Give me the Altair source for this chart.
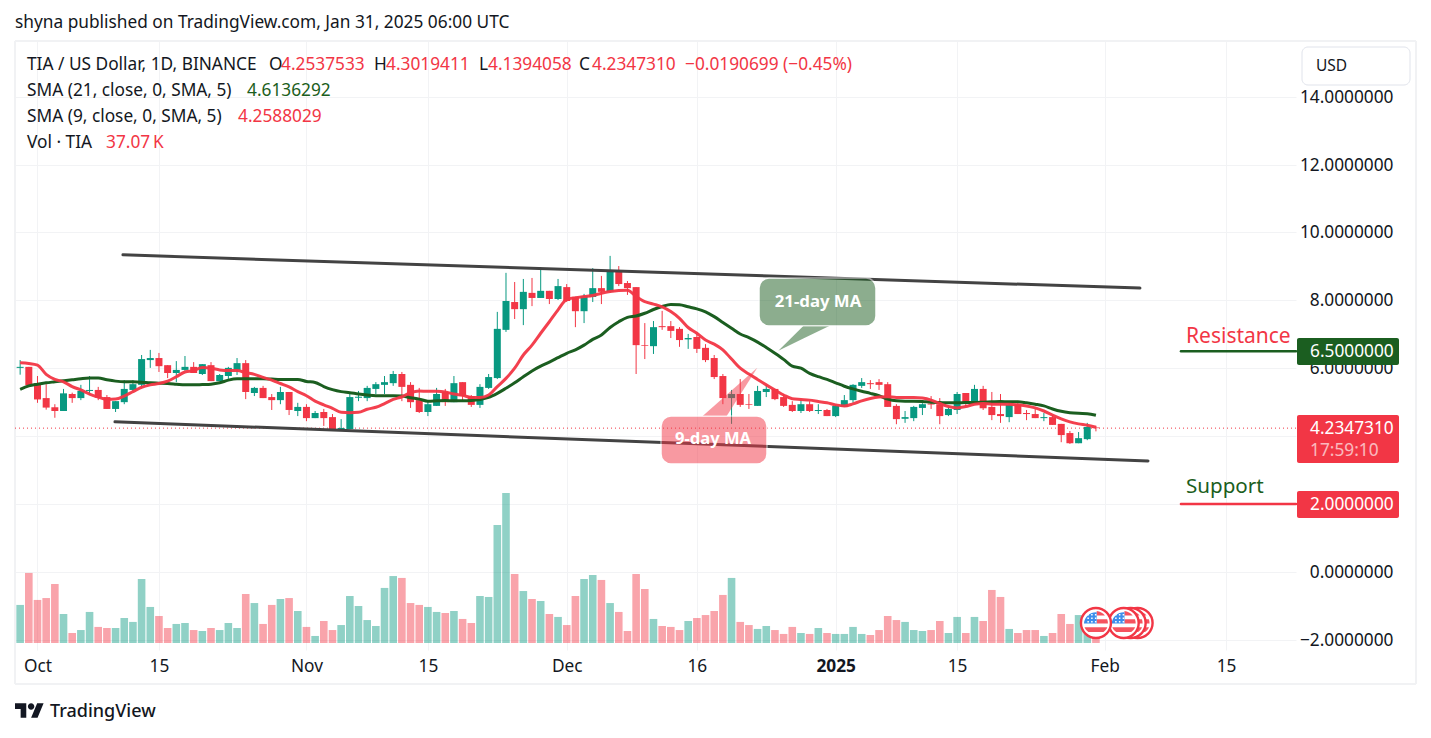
import altair as alt
import pandas as pd

# ---------- data ----------
days = list(range(-2, 123))
opens = [5.99,6.02,5.54,5.10,4.83,4.72,5.22,5.10,5.31,5.34,5.13,4.78,4.98,5.34,5.49,6.22,6.28,6.07,5.84,5.93,6.02,5.81,6.07,5.60,5.75,5.93,6.13,5.25,5.40,5.13,5.04,5.28,4.72,4.84,4.51,4.69,4.54,4.19,4.19,5.11,5.10,5.37,5.49,5.54,5.81,5.49,5.04,4.69,4.87,5.28,4.98,5.57,5.16,4.90,5.40,5.69,7.11,7.93,7.72,8.20,8.05,8.26,8.02,8.37,8.08,7.66,8.08,8.34,8.23,8.87,8.49,8.37,6.66,6.63,7.22,7.22,7.14,6.83,6.90,6.58,6.28,5.75,5.10,5.22,4.92,4.87,5.28,5.37,5.13,4.90,4.72,4.92,4.72,4.75,4.57,4.84,5.04,5.46,5.54,5.57,5.51,4.87,4.49,4.51,4.81,4.94,4.92,4.60,4.75,5.25,4.98,5.37,4.84,4.63,4.54,4.92,4.66,4.63,4.51,4.54,4.34,4.07,3.77,3.89,4.2537533]
highs = [6.22,6.02,5.75,5.51,4.92,5.37,5.26,5.49,5.75,5.43,5.19,5.01,5.63,5.63,6.37,6.52,6.43,6.07,6.19,6.34,6.16,6.10,6.16,5.81,6.02,6.28,6.22,5.43,5.46,5.22,5.43,5.28,4.96,4.92,4.72,4.78,4.63,4.48,5.23,5.31,5.46,5.57,5.75,5.90,5.87,5.57,5.40,5.04,5.40,5.37,5.75,5.57,5.19,5.51,5.81,7.64,8.79,8.52,8.61,8.64,8.96,8.26,8.61,8.46,8.08,8.17,8.93,8.70,9.29,8.99,8.55,8.37,7.31,7.37,7.67,7.37,7.19,6.99,6.99,6.69,6.37,5.81,5.34,5.66,5.22,5.46,5.49,5.37,5.22,5.01,5.04,5.01,4.92,4.78,4.90,5.19,5.51,5.69,5.63,5.66,5.57,4.92,4.72,4.87,4.95,5.16,5.10,4.84,5.28,5.25,5.49,5.46,5.28,5.22,4.98,4.98,4.75,4.78,4.66,4.60,4.34,4.13,4.10,4.37,4.3019411]
lows = [5.79,5.48,4.96,4.76,4.52,4.72,4.96,5.04,5.19,5.04,4.78,4.69,4.92,5.31,5.43,5.99,5.87,5.69,5.57,5.90,5.84,5.78,5.60,5.60,5.66,5.78,5.07,5.16,5.10,4.75,4.92,4.60,4.57,4.42,4.51,4.28,4.16,4.19,4.19,5.01,5.01,5.22,5.22,5.46,5.01,4.81,4.66,4.57,4.87,4.87,4.98,5.00,4.84,4.81,5.37,5.66,7.05,7.43,7.25,7.81,8.05,7.87,7.99,7.93,7.19,7.31,7.93,7.87,8.20,8.40,8.14,5.81,6.25,6.40,7.11,6.87,6.61,6.55,6.43,6.16,5.66,4.92,4.34,4.84,4.78,4.87,5.13,5.04,4.84,4.69,4.66,4.69,4.63,4.57,4.54,4.84,4.96,5.40,5.37,5.34,4.84,4.33,4.37,4.42,4.60,4.78,4.33,4.57,4.63,4.87,4.98,4.75,4.45,4.37,4.39,4.63,4.45,4.51,4.42,4.31,3.80,3.75,3.77,3.86,4.1394058]
closes = [6.02,5.48,5.06,4.82,4.72,5.24,5.10,5.31,5.34,5.11,4.78,5.01,5.37,5.51,6.25,6.28,6.04,5.84,5.93,6.02,5.84,6.10,5.60,5.78,5.99,6.13,5.28,5.40,5.10,5.04,5.28,4.75,4.84,4.51,4.66,4.51,4.19,4.22,5.13,5.14,5.40,5.51,5.57,5.81,5.43,4.98,4.69,4.92,5.22,4.98,5.54,5.16,4.90,5.43,5.72,7.14,7.96,7.72,8.23,8.05,8.26,8.02,8.40,7.96,7.66,8.11,8.34,8.23,8.84,8.46,8.34,6.66,6.64,7.19,7.19,7.08,6.81,6.87,6.55,6.22,5.72,5.10,5.22,4.90,4.90,5.31,5.37,5.07,4.87,4.72,4.92,4.72,4.75,4.57,4.87,5.04,5.49,5.57,5.51,5.49,4.84,4.48,4.54,4.84,4.92,4.91,4.57,4.78,5.22,4.98,5.37,4.80,4.60,4.57,4.90,4.63,4.63,4.51,4.54,4.31,4.01,3.77,3.92,4.25,4.2347310]
volumes_k = [282,519,319,333,437,215,74,96,230,119,111,111,185,156,474,267,200,111,141,148,96,89,111,96,148,111,363,296,141,282,326,333,237,119,52,163,96,133,348,274,170,126,408,496,482,296,282,267,230,222,237,178,148,348,341,874,1112,511,385,326,311,215,193,133,348,474,504,467,296,230,89,511,400,178,126,119,96,163,185,207,237,356,482,156,133,104,126,96,67,119,74,67,111,74,67,67,119,67,59,96,200,170,156,96,89,96,163,74,193,74,193,163,393,341,104,74,96,96,52,74,215,141,207,185,37.07]
sma9 = [6.14,6.12,6.07,5.80,5.65,5.58,5.44,5.34,5.22,5.13,5.06,5.07,5.16,5.29,5.42,5.49,5.53,5.60,5.73,5.87,5.91,6.00,5.98,5.93,5.91,5.91,5.85,5.80,5.71,5.63,5.53,5.43,5.29,5.17,5.01,4.90,4.80,4.68,4.67,4.68,4.77,4.83,4.94,5.06,5.14,5.26,5.31,5.30,5.30,5.28,5.22,5.18,5.12,5.12,5.19,5.44,5.68,5.98,6.37,6.66,7.01,7.35,7.70,8.01,8.06,8.09,8.12,8.19,8.24,8.27,8.28,8.09,7.94,7.87,7.79,7.65,7.45,7.18,7.01,6.81,6.69,6.52,6.25,5.98,5.81,5.65,5.49,5.34,5.19,5.08,5.06,5.04,5.00,4.96,4.90,4.87,4.93,5.02,5.09,5.13,5.14,5.12,5.12,5.12,5.10,5.04,4.94,4.85,4.81,4.85,4.92,4.94,4.92,4.92,4.92,4.90,4.87,4.81,4.72,4.60,4.49,4.40,4.34,4.30,4.2588029]
sma21 = [5.36,5.46,5.51,5.55,5.58,5.61,5.64,5.67,5.69,5.69,5.64,5.60,5.58,5.58,5.57,5.55,5.54,5.53,5.51,5.49,5.49,5.50,5.51,5.55,5.63,5.67,5.67,5.67,5.67,5.66,5.65,5.65,5.65,5.59,5.56,5.44,5.35,5.29,5.26,5.22,5.19,5.17,5.17,5.17,5.16,5.11,5.07,5.01,5.02,5.03,5.02,5.02,5.03,5.06,5.12,5.24,5.39,5.55,5.73,5.90,6.04,6.16,6.29,6.42,6.52,6.66,6.83,6.96,7.18,7.35,7.48,7.52,7.60,7.71,7.80,7.86,7.85,7.79,7.73,7.64,7.50,7.33,7.16,6.99,6.88,6.75,6.59,6.42,6.24,6.04,5.98,5.83,5.73,5.65,5.55,5.45,5.37,5.30,5.24,5.17,5.07,5.02,5.01,5.01,5.00,4.98,4.97,4.96,4.96,4.97,4.97,4.98,4.99,5.00,4.99,4.99,4.96,4.92,4.87,4.78,4.71,4.67,4.65,4.64,4.6136292]

tick_days = [0, 14, 31, 45, 61, 76, 92, 106, 123, 137]
tick_names = ["Oct", "15", "Nov", "15", "Dec", "16", "2025", "15", "Feb", "15"]
price_ticks = [14, 12, 10, 8, 6, 4, 2, 0, -2]
upper_channel_days, upper_channel = [9.85, 127.07], [9.34, 8.36]
lower_channel_days, lower_channel = [8.93, 128.0], [4.42, 3.27]
level_days = [131.8, 145.06]
resistance, support, last_close = 6.5, 2.0, 4.2347310
event_days = [126.8, 126.0, 125.2, 122.0]

GREEN, RED, DARK, INK = "#089981", "#F23645", "#1B5E20", "#131722"
FONT = "Noto Sans"
XDOM = [-2.593, 145.06]
PDOM = [-2.302, 15.641]
VDOM = [-52, 4461]
LEFT, TOP = 15, 41
TXT = 17.3

df = pd.DataFrame(dict(day=days, o=opens, h=highs, l=lows, c=closes, v=volumes_k, s9=sma9, s21=sma21))
df["dir"] = ["up" if c >= o else "down" for o, c in zip(opens, closes)]
df["base"] = 0
# the readings above were taken with an axis origin 0.7 px too high; the last row is exact
for col in ["o", "h", "l", "c", "s9", "s21"]:
    df.loc[df.index[:-1], col] += 0.02

X = lambda f="day": alt.X(f"{f}:Q", scale=alt.Scale(domain=XDOM, nice=False, zero=False), axis=None)
Y = lambda f: alt.Y(f"{f}:Q", scale=alt.Scale(domain=PDOM, nice=False, zero=False), axis=None)
COL = alt.Color("dir:N", scale=alt.Scale(domain=["up", "down"], range=[GREEN, RED]), legend=None)


def px_x(v):
    return alt.value(v - LEFT)


def px_y(v):
    return alt.value(v - TOP)


def label(text, x, y, color=INK, size=TXT, weight="normal", align="left", opacity=1.0, font=FONT):
    return alt.Chart(pd.DataFrame({"t": [text]})).mark_text(
        align=align, baseline="middle", font=font, fontSize=size, fontWeight=weight,
        color=color, opacity=opacity,
    ).encode(x=px_x(x), y=px_y(y + 1.2), text="t:N")


def box(x0, x1, y0, y1, fill, radius=2, opacity=1.0, stroke=None):
    kw = dict(fill=fill, cornerRadius=radius, opacity=opacity)
    if stroke:
        kw.update(stroke=stroke, strokeWidth=1.5)
    return alt.Chart(pd.DataFrame({"a": [0]})).mark_rect(**kw).encode(
        x=px_x(x0), x2=px_x(x1), y=px_y(y0), y2=px_y(y1))


def frame_line(x0, x1, y0, y1):
    return alt.Chart(pd.DataFrame({"a": [0]})).mark_rule(color="#f1f2f4", strokeWidth=2).encode(
        x=px_x(x0), x2=px_x(x1), y=px_y(y0), y2=px_y(y1))


def seg(xs, ys, color, width):
    d = pd.DataFrame({"day": xs, "p": ys})
    return alt.Chart(d).mark_line(color=color, strokeWidth=width, strokeCap="round").encode(x=X(), y=Y("p"))


def tail(xs, y1s, y2s, color):
    d = pd.DataFrame({"day": xs, "p": y1s, "q": y2s})
    return alt.Chart(d).mark_area(color=color, opacity=0.5).encode(
        x=X(), y=Y("p"), y2=alt.Y2("q:Q"))


names = dict(zip(tick_days, tick_names))
label_expr = "{" + ",".join(f"'{k}':'{v}'" for k, v in names.items()) + "}[datum.value]"

axes = alt.Chart(pd.DataFrame({"day": tick_days, "p": [0] * len(tick_days)})).mark_point(opacity=0).encode(
    x=alt.X("day:Q", scale=alt.Scale(domain=XDOM, nice=False, zero=False),
            axis=alt.Axis(values=tick_days, labelExpr=label_expr, title=None, grid=True,
                          gridColor="#f2f3f5", gridWidth=1, ticks=False, domain=False,
                          labelFont=FONT, labelFontSize=TXT, labelColor=INK, labelPadding=7,
                          labelOverlap=False, labelFlush=False, labelBound=False,
                          labelFontWeight=alt.expr("datum.value==92?'bold':'normal'"))),
    y=alt.Y("p:Q", scale=alt.Scale(domain=PDOM, nice=False, zero=False),
            axis=alt.Axis(values=price_ticks, orient="right", title=None, grid=True,
                          labelExpr="datum.value==2||datum.value==4?'':format(datum.value,'.7f')",
                          gridColor="#f2f3f5", gridWidth=1, ticks=False, domain=False,
                          labelFont=FONT, labelFontSize=TXT, labelColor=INK, labelAlign="right",
                          labelOffset=0.5,
                          labelPadding=97, labelOverlap=False, labelBound=False, labelFlush=False)),
)

volume = alt.Chart(df).mark_rule(strokeWidth=7.6, opacity=0.45).encode(
    x=X(), y=alt.Y("v:Q", scale=alt.Scale(domain=VDOM, nice=False, zero=False), axis=None),
    y2=alt.Y2("base:Q"), color=COL)
wicks = alt.Chart(df).mark_rule(strokeWidth=1).encode(x=X(), y=Y("l"), y2=alt.Y2("h:Q"), color=COL)
bodies = alt.Chart(df).mark_rule(strokeWidth=7).encode(
    x=X(), y=Y("o"), y2=alt.Y2("c:Q"), color=COL)
line21 = alt.Chart(df).mark_line(color=DARK, strokeWidth=3, interpolate="monotone").encode(x=X(), y=Y("s21"))
line9 = alt.Chart(df).mark_line(color=RED, strokeWidth=3, opacity=0.95, interpolate="monotone").encode(x=X(), y=Y("s9"))

last_line = alt.Chart(pd.DataFrame({"day": XDOM, "p": [last_close, last_close]})).mark_line(
    color=RED, strokeWidth=1, strokeDash=[1, 3]).encode(x=X(), y=Y("p"))

flag_canton = "M.05,-.72L.05,.03L-.8,.03A.8,.8 0 0 1 .05,-.72Z"
flag_top = "M.05,-.8A.8,.8 0 0 1 .6,-.5L.05,-.5Z"
flag_mid = "M.05,-.25L.75,-.25A.8,.8 0 0 1 .8,.03L.05,.03Z"
flag_low = "M-.76,.28L.76,.28A.8,.8 0 0 1 .5,.6L-.5,.6A.8,.8 0 0 1 -.76,.28Z"
star_dots = "".join(
    f"M{x - .05:.2f},{y - .05:.2f}h.1v.1h-.1Z"
    for y in (-.55, -.32, -.09) for x in (-.52, -.27, -.02)
)
flags = []
for d in event_days:
    one = pd.DataFrame({"day": [d]})
    yy = px_y(623)
    flags += [
        alt.Chart(one).mark_point(shape="circle", size=900, filled=True, fill="white",
                                  stroke=RED, strokeWidth=2.4, opacity=1).encode(x=X(), y=yy),
    ]
    for path, col in [(flag_top, "#F5535F"), (flag_mid, "#F5535F"), (flag_low, "#F5535F"),
                      (flag_canton, "#3D8EEB"), (star_dots, "white")]:
        flags.append(alt.Chart(one).mark_point(shape=path, size=900, filled=True, fill=col,
                                               strokeWidth=0, opacity=1).encode(x=X(), y=yy))

logo_path = ("M-.222,.5L-.611,.5L-.611,-.111L-1,-.111L-1,-.5L-.222,-.5Z"
             "M.556,.5L.111,.5L.528,-.5L.972,-.5Z"
             "M-.111,-.278a.222,.222 0 1 0 .444,0a.222,.222 0 1 0 -.444,0Z")
logo = alt.Chart(pd.DataFrame({"a": [0]})).mark_point(
    shape=logo_path, size=841, filled=True, fill=INK, strokeWidth=0, opacity=1).encode(
    x=px_x(29.5), y=px_y(710.5))

layers = [
    frame_line(15, 1416, 41, 41), frame_line(15, 1416, 684, 684),
    frame_line(15, 15, 41, 684), frame_line(1416, 1416, 41, 684),
    axes, volume, last_line, wicks, bodies, line21, line9,
    seg(upper_channel_days, upper_channel, "#434343", 3),
    seg(lower_channel_days, lower_channel, "#434343", 3),
    seg(level_days, [resistance, resistance], DARK, 2.5),
    seg(level_days, [support, support], RED, 2.5),
    # callouts
    tail([85.39, 88.27, 91.26], [6.517, 7.244, 7.244], [6.517, 6.874, 7.244], DARK),
    box(759, 876, 278, 326, DARK, radius=10, opacity=0.5, stroke="white"),
    tail([76.67, 79.44, 82.97], [4.593, 5.219, 6.016], [4.593, 4.593, 6.016], RED),
    box(661, 767, 416, 464, RED, radius=10, opacity=0.5, stroke="white"),
    label("21-day MA", 818, 301, "white", 16.8, "bold", "center"),
    label("9-day MA", 713, 438, "white", 16.6, "bold", "center"),
    # price pills
    box(1297, 1399, 338, 365, DARK),
    label("6.5000000", 1310, 351, "white"),
    box(1297, 1399, 415, 463, RED),
    label("4.2347310", 1310, 428, "white"),
    label("17:59:10", 1310, 449.5, "white", opacity=0.65),
    box(1297, 1399, 491, 518, RED),
    label("2.0000000", 1310, 504, "white"),
    label("Resistance", 1186, 336, RED, 21),
    label("Support", 1186, 486, DARK, 20.6),
    # USD button
    alt.Chart(pd.DataFrame({"a": [0]})).mark_rect(fill="white", stroke="#e0e3eb", cornerRadius=6).encode(
        x=px_x(1302), x2=px_x(1410), y=px_y(47), y2=px_y(85)),
    label("USD", 1316, 65, INK, 15.5),
    # header
    label("shyna published on TradingView.com, Jan 31, 2025 06:00 UTC", 15, 22),
    label("TIA / US Dollar, 1D, BINANCE", 27, 64),
    label("O", 269, 64), label("4.2537533", 281, 64, RED),
    label("H", 374, 64), label("4.3019411", 386, 64, RED),
    label("L", 479, 64), label("4.1394058", 488, 64, RED),
    label("C", 579, 64), label("4.2347310", 592, 64, RED),
    label("\u22120.0190699 (\u22120.45%)", 685, 64, RED),
    label("SMA (21, close, 0, SMA, 5)", 27, 90), label("4.6136292", 247, 90, DARK),
    label("SMA (9, close, 0, SMA, 5)", 27, 116), label("4.2588029", 238, 116, RED),
    label("Vol \u00b7 TIA", 27, 142), label("37.07\u2009K", 106, 142, RED),
    logo,
    label("TradingView", 50, 711, INK, 18, 500),
] + flags

chart = alt.layer(*layers).resolve_scale(x="independent", y="independent", color="shared").properties(
    width=1281, height=609, background="white",
    padding={"left": 7, "top": 33, "right": 127, "bottom": 76},
    autosize=alt.AutoSizeParams(type="none"),
).configure_view(stroke=None)

chart.save("out.html", embed_options={"renderer": "svg", "actions": False})
